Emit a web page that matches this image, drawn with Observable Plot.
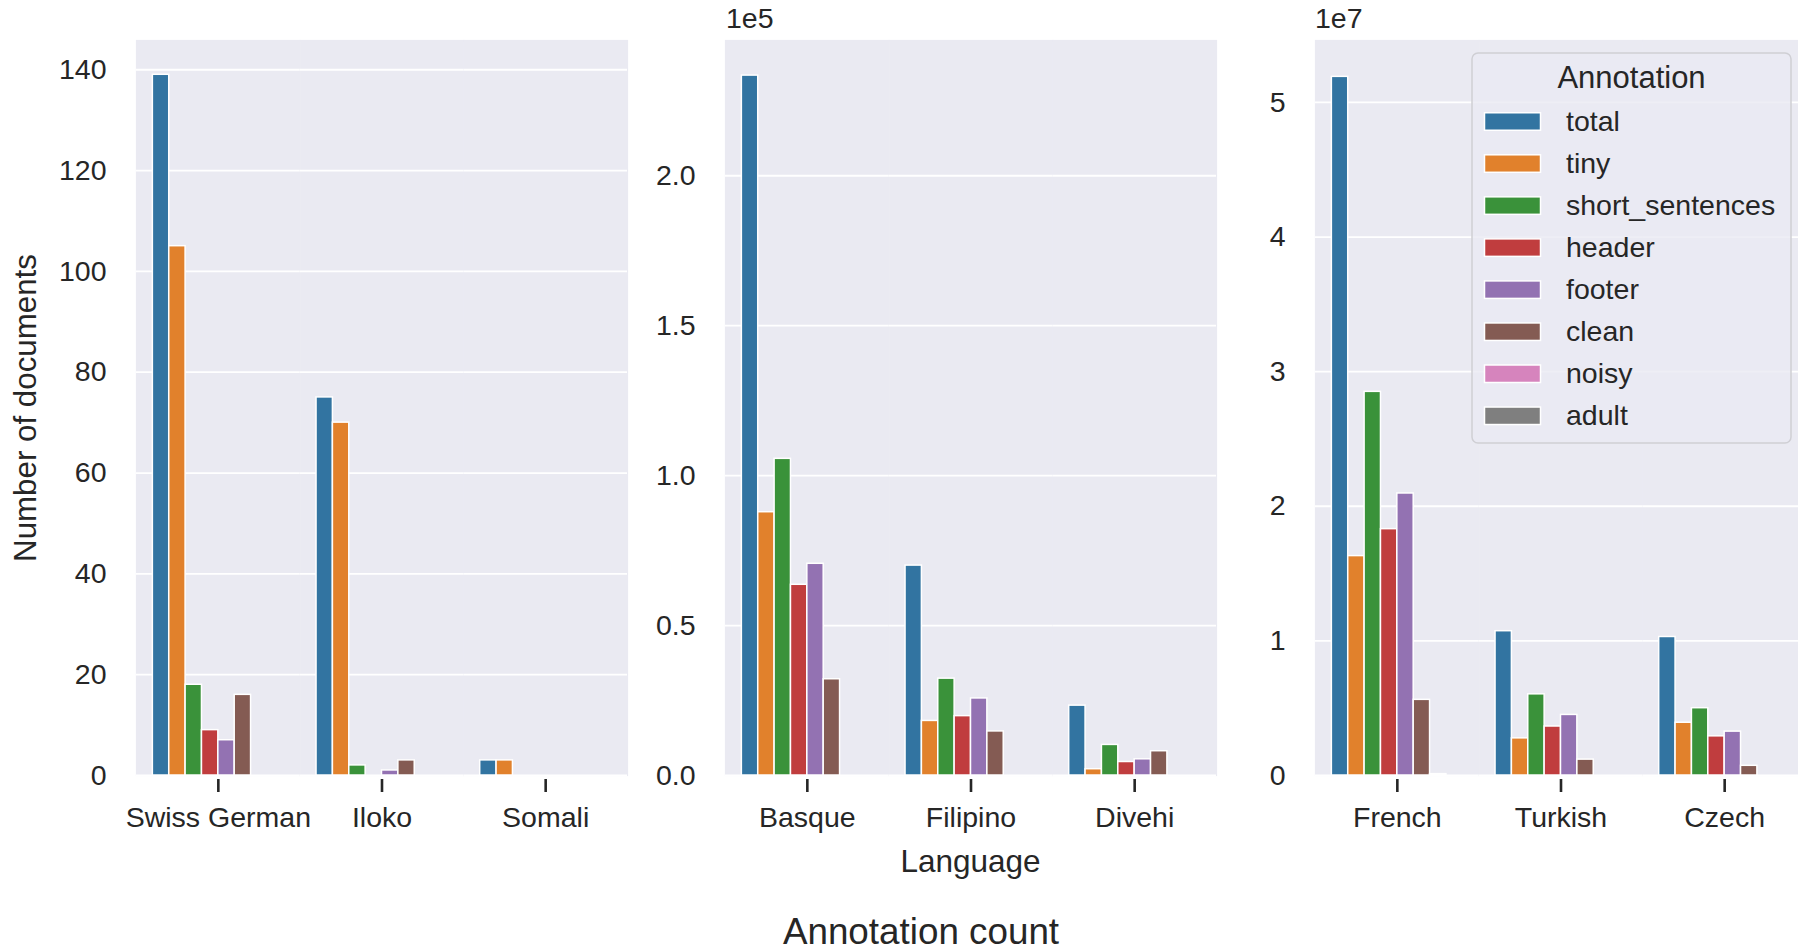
<!DOCTYPE html>
<html>
<head>
<meta charset="utf-8">
<script src="https://cdn.jsdelivr.net/npm/d3@7"></script>
<script src="https://cdn.jsdelivr.net/npm/@observablehq/plot@0.6"></script>
<style>
  html, body { margin: 0; padding: 0; background: #ffffff; overflow: hidden; }
  #chart { position: relative; width: 1798px; height: 952px; overflow: hidden;
           font-family: "Liberation Sans", Arial, sans-serif; color: #262626; }
  #chart > svg { position: absolute; top: 0; }
</style>
</head>
<body>
<div id="chart"></div>
<script>
// ---------- data ----------
const annotations = ["total", "tiny", "short_sentences", "header", "footer", "clean", "noisy", "adult"];
const annotationColors = ["#3274a1", "#e1812c", "#3a923a", "#c03d3e", "#9372b2", "#845b53", "#d684bd", "#7f7f7f"];

// panel 1 (raw counts)
const panel1Languages = ["Swiss German", "Iloko", "Somali"];
const swissGerman = [139, 105, 18, 9, 7, 16, 0, 0];
const iloko       = [75, 70, 2, 0, 1, 3, 0, 0];
const somali      = [3, 3, 0, 0, 0, 0, 0, 0];
const panel1Ticks = [0, 20, 40, 60, 80, 100, 120, 140];

// panel 2 (scale 1e5)
const panel2Languages = ["Basque", "Filipino", "Divehi"];
const basque   = [233400, 87800, 105600, 63600, 70600, 32100, 0, 0];
const filipino = [70000, 18200, 32300, 19800, 25700, 14700, 0, 0];
const divehi   = [23300, 2100, 10200, 4500, 5400, 8100, 0, 0];
const panel2Ticks = [0, 50000, 100000, 150000, 200000];

// panel 3 (scale 1e7)
const panel3Languages = ["French", "Turkish", "Czech"];
const french  = [51900000, 16300000, 28500000, 18300000, 20950000, 5620000, 100000, 0];
const turkish = [10720000, 2760000, 6030000, 3640000, 4500000, 1180000, 0, 0];
const czech   = [10290000, 3920000, 5000000, 2910000, 3260000, 720000, 0, 0];
const panel3Ticks = [0, 10000000, 20000000, 30000000, 40000000, 50000000];

const yLabel = "Number of documents";
const xLabel = "Language";
const figureTitle = "Annotation count";
const legendTitle = "Annotation";

// ---------- layout ----------
const FONT = '"Liberation Sans", Arial, sans-serif';
const TEXT = "#262626";
const BG = "#eaeaf2";
const container = document.getElementById("chart");

function buildRows(languages, valueArrays) {
  return languages.flatMap((language, i) =>
    annotations.map((annotation, k) => ({ language, annotation, value: valueArrays[i][k] })));
}

function drawPanel({ languages, values, ticks, yMax, tickFormat, left, marginRight }) {
  const rows = buildRows(languages, values).filter(d => d.value > 0);
  const marginLeft = 136, innerWidth = 491;
  const plot = Plot.plot({
    width: marginLeft + innerWidth + marginRight,
    height: 952,
    marginLeft, marginRight,
    marginTop: 40,
    marginBottom: 177,
    style: { fontFamily: FONT, fontSize: "28.5px", color: TEXT, background: "transparent",
             maxWidth: "none", overflow: "visible" },
    fx: { domain: languages, padding: 0, round: false, label: null },
    x: { domain: annotations, paddingInner: 0, paddingOuter: 1, round: false, axis: null },
    y: { domain: [0, yMax], label: null },
    color: { domain: annotations, range: annotationColors },
    marks: [
      Plot.frame({ fill: BG, stroke: BG, strokeWidth: 1.2 }),
      Plot.gridY(ticks, { stroke: "white", strokeOpacity: 1, strokeWidth: 1.8 }),
      Plot.barY(rows, { fx: "language", x: "annotation", y: "value", fill: "annotation",
                        stroke: "white", strokeWidth: 1.5 }),
      Plot.axisY(ticks, { tickSize: 0, tickPadding: 30, tickFormat, fontSize: 28.5, label: null }),
      Plot.axisFx({ anchor: "bottom", tickSize: 13, tickPadding: 14, dy: 4, fontSize: 28.5,
                    label: null, strokeWidth: 2.6 })
    ]
  });
  plot.style.left = left + "px";
  container.appendChild(plot);
}

drawPanel({ languages: panel1Languages, values: [swissGerman, iloko, somali], ticks: panel1Ticks,
            yMax: 145.8, tickFormat: d => d3.format("d")(d), left: 0, marginRight: 20 });
drawPanel({ languages: panel2Languages, values: [basque, filipino, divehi], ticks: panel2Ticks,
            yMax: 245100, tickFormat: d => (d / 1e5).toFixed(1), left: 589, marginRight: 20 });
drawPanel({ languages: panel3Languages, values: [french, turkish, czech], ticks: panel3Ticks,
            yMax: 54600000, tickFormat: d => String(d / 1e7), left: 1178.5, marginRight: 0 });

// ---------- overlay texts & legend ----------
const svg = d3.select(container).append("svg")
  .attr("width", 1798).attr("height", 952)
  .style("left", "0px").style("pointer-events", "none")
  .attr("font-family", FONT).attr("fill", TEXT);

svg.append("text").attr("x", 726).attr("y", 28).attr("font-size", 28.5).text("1e5");
svg.append("text").attr("x", 1315).attr("y", 28).attr("font-size", 28.5).text("1e7");
svg.append("text").attr("transform", "translate(36,408) rotate(-90)")
  .attr("text-anchor", "middle").attr("font-size", 31.3).text(yLabel);
svg.append("text").attr("x", 970.5).attr("y", 872).attr("text-anchor", "middle")
  .attr("font-size", 31.5).text(xLabel);
svg.append("text").attr("x", 921).attr("y", 944).attr("text-anchor", "middle")
  .attr("font-size", 36.8).text(figureTitle);

const legend = svg.append("g");
legend.append("rect").attr("x", 1472).attr("y", 53).attr("width", 319).attr("height", 390)
  .attr("rx", 6).attr("fill", "rgba(234,234,242,0.8)").attr("stroke", "#cfcfd4").attr("stroke-width", 1.5);
legend.append("text").attr("x", 1631.5).attr("y", 88).attr("text-anchor", "middle")
  .attr("font-size", 31).text(legendTitle);
annotations.forEach((name, i) => {
  const cy = 121.5 + 42.04 * i;
  legend.append("rect").attr("x", 1484.5).attr("y", cy - 8.75).attr("width", 56).attr("height", 17.5)
    .attr("fill", annotationColors[i]).attr("stroke", "white").attr("stroke-width", 1.5);
  legend.append("text").attr("x", 1566).attr("y", cy + 9.5).attr("font-size", 28.5).text(name);
});
</script>
</body>
</html>
